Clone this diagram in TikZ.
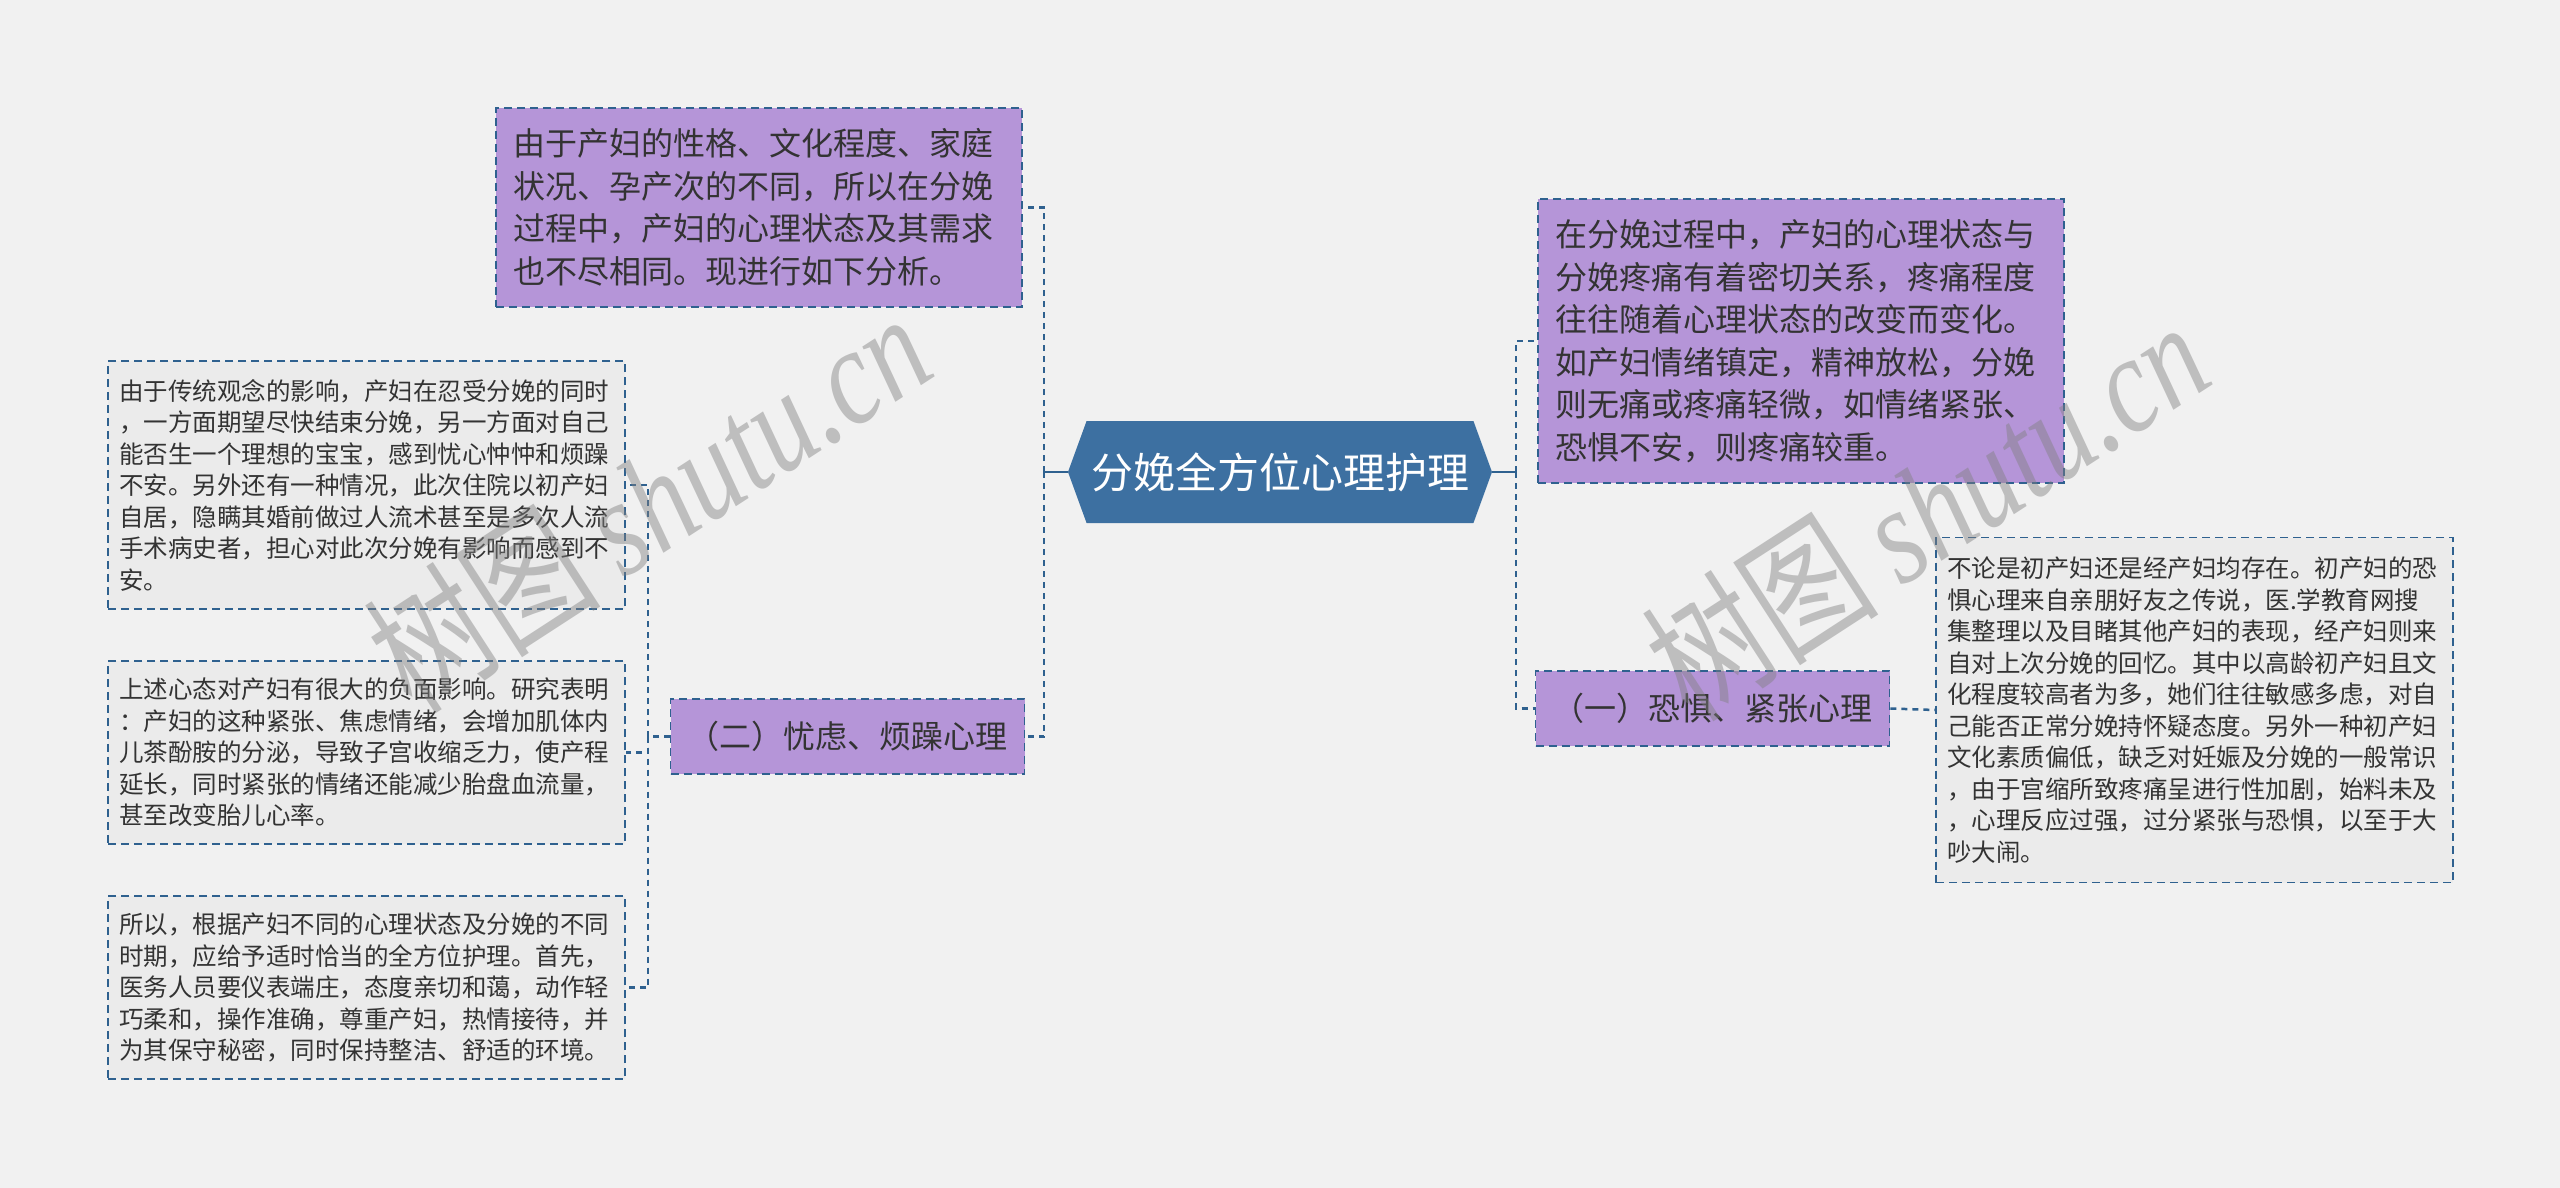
\documentclass[tikz,border=0pt]{standalone}
\usepackage{fontspec}
\setmainfont{Noto Sans CJK SC}
\newfontfamily\wmlatin{Liberation Serif}
\usepackage{tikz}
\usetikzlibrary{shapes.symbols}
\definecolor{bg}{HTML}{F1F1F1}
\definecolor{rootblue}{HTML}{3D70A1}
\definecolor{lilac}{HTML}{B595D8}
\definecolor{leafgray}{HTML}{EBEBEB}
\definecolor{edge}{HTML}{2F618F}
\definecolor{ink}{HTML}{333333}
\newcommand\wm{\scalebox{0.8}[1]{\fontsize{140}{140}\selectfont 树图 {\wmlatin\itshape shutu.cn}}}

\begin{document}
\begin{tikzpicture}[x=1pt, y=-1pt,
  rootbox/.style={signal, signal to=west and east, signal pointer angle=140, fill=rootblue, text=white, minimum width=424pt, minimum height=102pt, inner sep=0pt, font=\fontsize{42}{50}\selectfont},
  purplebox/.style={draw=edge, fill=lilac, line width=1.8pt, dash pattern=on 8pt off 5pt, text=ink, align=left, inner xsep=17pt, inner ysep=0pt, font=\fontsize{32}{42.5}\selectfont},
  leafbox/.style={draw=edge, fill=leafgray, line width=1.8pt, dash pattern=on 8pt off 5pt, text=ink, align=left, text width=495pt, inner xsep=11pt, inner ysep=0pt, font=\fontsize{24.5}{31.5}\selectfont},
  link/.style={draw=edge, line width=2.5pt, dash pattern=on 6pt off 5pt},
  stub/.style={draw=edge, line width=2.5pt},
  wmark/.style={text=gray, opacity=0.45, rotate=33, inner sep=0pt}
]
\useasboundingbox (0,0) rectangle (2560,1188);
\fill[bg] (0,0) rectangle (2560,1188);

% centre
\node[rootbox] (c) at (1280,472) {分娩全方位心理护理};

% left branch
\node[purplebox, text width=492pt, minimum height=199pt] (p1) at (759,207.5) {由于产妇的性格、文化程度、家庭\\状况、孕产次的不同，所以在分娩\\过程中，产妇的心理状态及其需求\\也不尽相同。现进行如下分析。};
\node[purplebox, align=center, minimum width=349pt, minimum height=75pt] (p2) at (847.5,736.5) {（二）忧虑、烦躁心理};
\node[leafbox, minimum height=248pt] (t1) at (366.5,485) {由于传统观念的影响，产妇在忍受分娩的同时\\，一方面期望尽快结束分娩，另一方面对自己\\能否生一个理想的宝宝，感到忧心忡忡和烦躁\\不安。另外还有一种情况，此次住院以初产妇\\自居，隐瞒其婚前做过人流术甚至是多次人流\\手术病史者，担心对此次分娩有影响而感到不\\安。};
\node[leafbox, minimum height=183pt] (t2) at (366.5,752.5) {上述心态对产妇有很大的负面影响。研究表明\\：产妇的这种紧张、焦虑情绪，会增加肌体内\\儿茶酚胺的分泌，导致子宫收缩乏力，使产程\\延长，同时紧张的情绪还能减少胎盘血流量，\\甚至改变胎儿心率。};
\node[leafbox, minimum height=183pt] (t3) at (366.5,987.5) {所以，根据产妇不同的心理状态及分娩的不同\\时期，应给予适时恰当的全方位护理。首先，\\医务人员要仪表端庄，态度亲切和蔼，动作轻\\巧柔和，操作准确，尊重产妇，热情接待，并\\为其保守秘密，同时保持整洁、舒适的环境。};

% right branch
\node[purplebox, text width=492pt, minimum height=284pt] (q1) at (1801,341) {在分娩过程中，产妇的心理状态与\\分娩疼痛有着密切关系，疼痛程度\\往往随着心理状态的改变而变化。\\如产妇情绪镇定，精神放松，分娩\\则无痛或疼痛轻微，如情绪紧张、\\恐惧不安，则疼痛较重。};
\node[purplebox, align=center, minimum width=349pt, minimum height=75pt] (q2) at (1712.5,708.5) {（一）恐惧、紧张心理};
\node[leafbox, minimum height=345pt] (t4) at (2194.5,710) {不论是初产妇还是经产妇均存在。初产妇的恐\\惧心理来自亲朋好友之传说，医.学教育网搜\\集整理以及目睹其他产妇的表现，经产妇则来\\自对上次分娩的回忆。其中以高龄初产妇且文\\化程度较高者为多，她们往往敏感多虑，对自\\己能否正常分娩持怀疑态度。另外一种初产妇\\文化素质偏低，缺乏对妊娠及分娩的一般常识\\，由于宫缩所致疼痛呈进行性加剧，始料未及\\，心理反应过强，过分紧张与恐惧，以至于大\\吵大闹。};

\coordinate (lj) at (1044,472);
\coordinate (rj) at (1516,472);
\coordinate (sj) at (648,736.5);

\draw[stub] (c.west) -- (lj);
\draw[link] (lj) |- (p1.east);
\draw[link] (lj) |- (p2.east);
\draw[stub] (c.east) -- (rj);
\draw[link] (rj) |- (q1.west);
\draw[link] (rj) |- (q2.west);
\draw[link] (q2.east) -- (t4.west);
\draw[link] (p2.west) -- (sj);
\draw[link] (sj) |- (t1.east);
\draw[link] (sj) |- (t2.east);
\draw[link] (sj) |- (t3.east);

% watermarks
\node[wmark] (w1) at (648,500) {\wm};
\node[wmark] (w2) at (1926,508) {\wm};
\end{tikzpicture}
\end{document}
